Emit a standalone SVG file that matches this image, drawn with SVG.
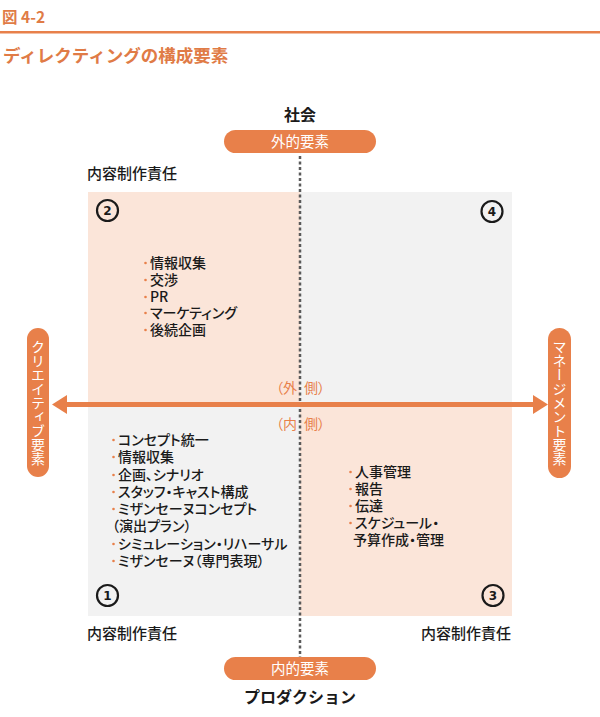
<svg xmlns="http://www.w3.org/2000/svg" width="600" height="717" viewBox="0 0 600 717">
  <style>
    text { font-family: "Noto Sans CJK JP", "Noto Sans", sans-serif; font-feature-settings: "palt"; }
    .head { fill: #e07b46; font-weight: bold; font-feature-settings: normal; }
    .dark { fill: #1a1a1a; font-size: 16px; font-weight: bold; text-anchor: middle; font-feature-settings: normal; }
    .label { fill: #1a1a1a; font-size: 15px; font-weight: 500; }
    .item { fill: #1a1a1a; font-size: 14px; font-weight: 500; }
    .bullet { fill: #e8804a; }
    .pilltxt { fill: #ffffff; font-size: 14.5px; text-anchor: middle; }
    .vtxt { fill: #ffffff; font-size: 14px; writing-mode: vertical-rl; text-anchor: middle; }
    .num { fill: #1a1a1a; font-size: 12px; font-weight: bold; text-anchor: middle; font-family: "DejaVu Sans", sans-serif; }
    .ring { fill: none; stroke: #1a1a1a; stroke-width: 2.2; }
    .side { fill: #e8804a; font-size: 14px; }
  </style>

  <!-- header -->
  <g id="header">
    <text x="2" y="23" class="head" font-size="15.5">図 4-2</text>
    <rect x="0" y="31" width="600" height="2.5" fill="#e8804a"/>
    <text x="3" y="62" class="head" font-size="17.5">ディレクティングの構成要素</text>
  </g>

  <!-- quadrant backgrounds -->
  <g id="quadrants">
    <rect x="88" y="192" width="212" height="212" fill="#fbe5d9"/>
    <rect x="300" y="192" width="212" height="212" fill="#f2f2f2"/>
    <rect x="88" y="404" width="212" height="212" fill="#f2f2f2"/>
    <rect x="300" y="404" width="212" height="212" fill="#fbe5d9"/>
  </g>

  <!-- axes -->
  <g id="connectors">
    <line x1="300" y1="156" x2="300" y2="657" stroke="#5a5a5a" stroke-width="2.5" stroke-dasharray="3 2.5"/>
    <rect x="64" y="402" width="472" height="5" fill="#e8804a"/>
    <polygon points="52,404.5 67,395 67,414" fill="#e8804a"/>
    <polygon points="548,404.5 533,395 533,414" fill="#e8804a"/>
  </g>

  <!-- top: society / external factors -->
  <g id="top">
    <text x="300" y="121" class="dark">社会</text>
    <rect x="224" y="130" width="152" height="23" rx="11.5" fill="#e8804a"/>
    <text x="300" y="147" class="pilltxt">外的要素</text>
  </g>

  <!-- bottom: production / internal factors -->
  <g id="bottom">
    <rect x="224" y="657" width="152" height="23" rx="11.5" fill="#e8804a"/>
    <text x="300" y="674" class="pilltxt">内的要素</text>
    <text x="300" y="703" class="dark">プロダクション</text>
  </g>

  <!-- left: creative factors -->
  <g id="left">
    <rect x="27" y="328" width="22" height="149" rx="11" fill="#e8804a"/>
    <text x="38" y="402.5" class="vtxt">クリエイティブ要素</text>
  </g>

  <!-- right: management factors -->
  <g id="right">
    <rect x="548" y="328" width="23" height="150" rx="11.5" fill="#e8804a"/>
    <text x="559.5" y="403" class="vtxt">マネージメント要素</text>
  </g>

  <!-- outside / inside labels -->
  <g id="side-labels">
    <text x="297" y="393" class="side" text-anchor="end">（外</text>
    <text x="304" y="393" class="side">側）</text>
    <text x="297" y="429" class="side" text-anchor="end">（内</text>
    <text x="304" y="429" class="side">側）</text>
  </g>

  <!-- responsibility labels -->
  <g id="responsibility">
    <text x="87" y="179" class="label">内容制作責任</text>
    <text x="87" y="639" class="label">内容制作責任</text>
    <text x="511" y="639" class="label" text-anchor="end">内容制作責任</text>
  </g>

  <!-- quadrant 2 -->
  <g id="q2">
    <circle cx="107.5" cy="210.5" r="10.5" class="ring"/>
    <text x="107.5" y="215" class="num">2</text>
    <circle cx="145.5" cy="263" r="1.3" class="bullet"/><text x="150" y="268" class="item">情報収集</text>
    <circle cx="145.5" cy="280" r="1.3" class="bullet"/><text x="150" y="285" class="item">交渉</text>
    <circle cx="145.5" cy="297" r="1.3" class="bullet"/><text x="150" y="302" class="item">PR</text>
    <circle cx="145.5" cy="313" r="1.3" class="bullet"/><text x="150" y="318" class="item">マーケティング</text>
    <circle cx="145.5" cy="330" r="1.3" class="bullet"/><text x="150" y="335" class="item">後続企画</text>
  </g>

  <!-- quadrant 4 -->
  <g id="q4">
    <circle cx="492" cy="211.5" r="10.5" class="ring"/>
    <text x="492" y="216" class="num">4</text>
  </g>

  <!-- quadrant 1 -->
  <g id="q1">
    <circle cx="107.5" cy="595.5" r="10.5" class="ring"/>
    <text x="107.5" y="600" class="num">1</text>
    <circle cx="113.5" cy="440" r="1.3" class="bullet"/><text x="118" y="445" class="item">コンセプト統一</text>
    <circle cx="113.5" cy="457" r="1.3" class="bullet"/><text x="118" y="462" class="item">情報収集</text>
    <circle cx="113.5" cy="475" r="1.3" class="bullet"/><text x="118" y="480" class="item">企画、シナリオ</text>
    <circle cx="113.5" cy="492" r="1.3" class="bullet"/><text x="118" y="497" class="item">スタッフ・キャスト構成</text>
    <circle cx="113.5" cy="509" r="1.3" class="bullet"/><text x="118" y="514" class="item">ミザンセーヌコンセプト</text>
    <text x="112" y="531" class="item">（演出プラン）</text>
    <circle cx="113.5" cy="544" r="1.3" class="bullet"/><text x="118" y="549" class="item">シミュレーション・リハーサル</text>
    <circle cx="113.5" cy="561" r="1.3" class="bullet"/><text x="118" y="566" class="item">ミザンセーヌ（専門表現）</text>
  </g>

  <!-- quadrant 3 -->
  <g id="q3">
    <circle cx="493" cy="595.5" r="10.5" class="ring"/>
    <text x="493" y="600" class="num">3</text>
    <circle cx="350.5" cy="472" r="1.3" class="bullet"/><text x="355" y="477" class="item">人事管理</text>
    <circle cx="350.5" cy="489" r="1.3" class="bullet"/><text x="355" y="494" class="item">報告</text>
    <circle cx="350.5" cy="506" r="1.3" class="bullet"/><text x="355" y="511" class="item">伝達</text>
    <circle cx="350.5" cy="523" r="1.3" class="bullet"/><text x="355" y="528" class="item">スケジュール・</text>
    <text x="353" y="545" class="item">予算作成・管理</text>
  </g>
</svg>
